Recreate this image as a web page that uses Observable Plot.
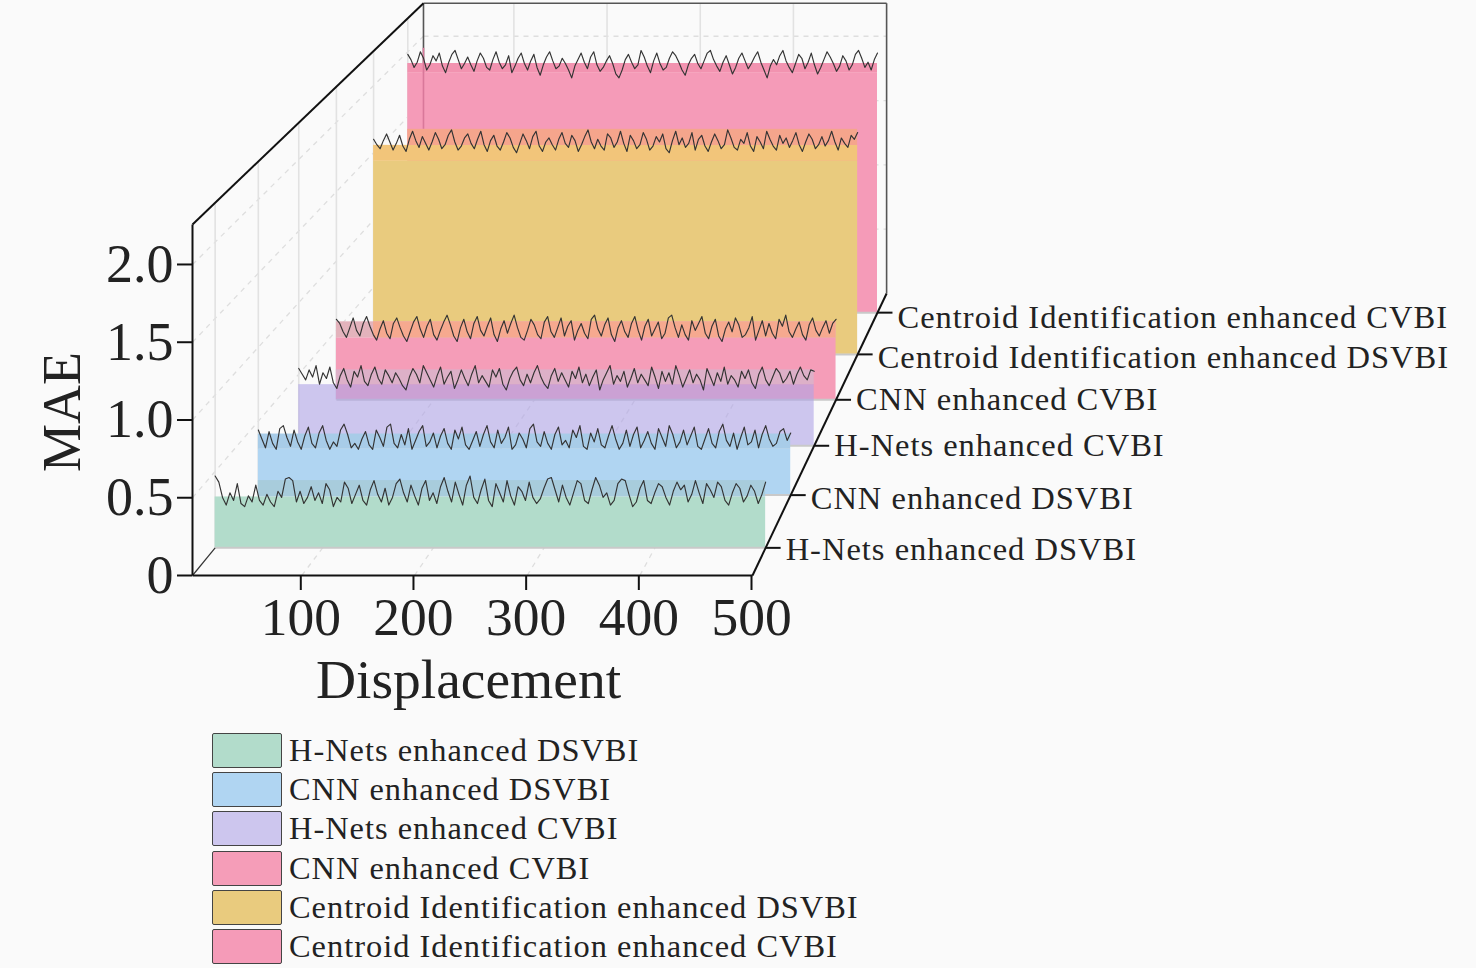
<!DOCTYPE html>
<html><head><meta charset="utf-8">
<script src="https://cdn.jsdelivr.net/npm/d3@7"></script>
<script src="https://cdn.jsdelivr.net/npm/@observablehq/plot@0.6"></script>
<style>
html,body{margin:0;padding:0;background:#fafafa;}
#legend{margin-left:212px;padding-top:5px;font-family:"Liberation Serif",serif;font-size:32.4px;letter-spacing:1px;color:#222;}
.row{display:flex;align-items:center;height:39.2px;}
.sw{width:68px;height:33px;border:1px solid #444;border-radius:2px;margin-right:7px;flex:none;}
.depth-label{letter-spacing:1px;}
</style></head><body>
<div id="chart"></div><div id="legend"></div>
<script>
const seriesNames=["H-Nets enhanced DSVBI","CNN enhanced DSVBI","H-Nets enhanced CVBI","CNN enhanced CVBI","Centroid Identification enhanced DSVBI","Centroid Identification enhanced CVBI"];
const seriesColors=["#B2DCCB","#B0D5F2","#AFA3E6","#F59DB8","#E9CB7E","#F59BB8"];
const seriesOpacity=[1,1,0.6,1,1,1];
const legendColors=["#B2DCCB","#B0D5F2","#CDC6EE","#F59DB8","#E9CB7E","#F59BB8"];
const seriesDepth=[0.098,0.285,0.46,0.623,0.784,0.932];
const seriesLevel=[0.333,0.31,0.427,0.447,1.436,1.84];
const bandLevel=[null,0.413,null,0.562,1.555,1.91];
const bandColors=[null,"#A8CCE8",null,"#E3B3BC","#F2C57A","#F293B0"];
const tintLevel=[0.44,null,0.53,0.562,1.674,null];
const tintColors=["#A8CCDC",null,"#DDB0C8","#F6A98F","#F5A58C",null];
const labelDy=[2,3,0,0,3,5];
const xTicks=[100,200,300,400,500];
const yTicks=[0,0.5,1,1.5,2];
const xMin=3,xMax=500,yMax=2.257;
const h1=[47,43,33,28,36,31,42,29,27,34,30,41,31,28,35,30,27,37,33,45,46,44,30,37,29,33,40,31,36,29,42,38,27,33,30,43,39,29,35,41,31,28,38,44,35,30,39,28,33,42,45,36,30,41,34,28,39,44,31,36,29,40,46,37,30,43,35,28,41,47,33,29,38,45,31,27,42,36,30,44,34,28,40,37,31,43,33,29,32,39,45,46,38,30,41,33,28,36,44,42,31,29,38,46,41,33,36,28,31,42,45,44,35,27,30,39,44,31,29,36,42,40,33,28,37,43,38,41,30,35,44,36,29,42,38,33,43,40,31,28,36,42,39,30,34,41,37,29,35,43];
const c1=[44,38,32,43,35,31,45,47,39,33,44,36,31,40,46,35,32,42,47,37,31,36,33,44,48,41,32,35,31,38,43,34,31,44,39,33,46,48,35,32,41,34,45,31,37,43,47,33,36,42,32,40,45,35,31,44,38,46,34,31,37,43,33,41,47,36,32,44,35,39,46,31,34,42,38,32,45,48,36,33,43,35,31,41,46,34,37,32,44,39,47,33,31,42,36,45,34,32,40,47,38,31,35,44,33,41,46,32,37,43,35,31,45,39,33,47,41,32,36,44,34,40,46,33,31,38,45,35,32,43,48,37,33,42,31,39,46,34,36,44,32,41,47,38,33,35,43,45,37,42];
const h2=[54,50,46,53,48,56,43,51,47,55,44,40,49,54,46,41,52,48,56,45,42,50,55,47,43,53,49,44,51,47,42,39,48,54,50,44,56,51,46,41,49,55,43,48,52,40,46,53,47,42,50,56,44,49,45,41,53,48,54,43,39,47,52,55,46,42,50,44,51,56,48,43,40,49,54,45,51,46,41,52,47,55,44,50,42,48,53,39,46,51,56,43,49,45,52,41,47,54,44,50,46,42,55,48,40,52,45,51,43,56,49,41,47,53,44,50,46,39,54,48,42,51,45,55,43,49,46,41,52,47,53,44,40,50,55,46,42,48,54,51,44,47,52,43,50,55,49,46,53,52];
const c2=[58,55,49,45,52,59,50,46,55,60,53,47,43,51,57,48,44,55,59,52,46,42,49,56,60,51,45,53,58,47,43,50,56,61,54,46,42,52,58,49,44,55,60,50,46,53,59,47,42,51,57,48,55,61,52,45,43,50,58,54,47,44,56,60,49,45,52,59,46,53,57,43,50,55,48,44,58,61,51,46,54,59,47,42,52,57,49,45,55,60,50,43,53,58,46,51,56,44,48,59,61,52,45,54,47,43,57,50,55,60,48,44,53,58,46,42,51,56,49,59,54,45,47,52,60,43,50,57,46,55,48,44,58,53,61,49,45,51,56,47,43,54,59,50,46,52,57,48,55,58];
const o1=[160,156,153,159,164,158,152,157,163,155,151,160,166,159,154,162,157,152,158,165,160,153,156,163,167,158,152,155,161,164,157,153,160,166,156,151,159,163,155,152,158,165,161,154,150,157,164,159,153,162,166,155,151,158,161,156,152,160,165,157,154,163,159,151,156,162,167,158,153,160,155,152,164,161,154,158,166,157,151,163,159,153,156,165,160,152,155,162,158,164,153,150,159,166,156,161,154,157,165,152,160,163,155,151,158,164,159,153,156,167,161,154,152,160,157,165,155,151,162,158,153,166,160,155,152,163,157,161,154,159,165,156,151,158,164,160,153,156,162,155,159,166,158,152,161,157,154,163,160,165];
const c3=[198,194,188,192,200,195,186,190,197,193,199,189,184,192,198,201,194,187,191,196,190,185,193,199,195,188,186,194,200,192,187,190,197,184,189,195,199,191,186,193,198,188,182,190,196,200,193,187,189,195,191,186,180,189,194,199,192,187,196,200,190,185,188,193,197,191,183,180,186,194,198,192,187,190,201,196,189,184,193,199,191,186,188,195,200,197,192,186,182,190,195,198,191,187,193,199,201,194,189,185,192,197,190,183,188,195,199,193,187,191,196,200,192,186,180,189,194,190,197,201,193,188,184,191,198,195,187,192,199,190,183,188,194,200,196,191,185,189,197,193,186,190,198,201,195,188,192,186,194,199];
const seriesValues=[h1,c1,h2,c2,o1,c3].map(a=>a.map(v=>v/100));
// oblique view: how far the back wall sits from the front plane, in data units
const depthX=205,depthY=1.8135,shrink=0.173,depthTick=13.3;
const px=(d,z)=>xMin+depthX*z+(d-xMin)*(1-shrink*z);
const py=(v,z)=>v*(1-shrink*z)+depthY*z;
const pt=(d,v,z)=>({x:px(d,z),y:py(v,z)});
const seg=(a,b)=>({x1:a.x,y1:a.y,x2:b.x,y2:b.y});

// grid
const wallVert=seriesDepth.map(z=>seg(pt(xMin,0,z),pt(xMin,yMax,z)));
const wallDiag=yTicks.slice(1).map(v=>seg(pt(xMin,v,0),pt(xMin,v,1)));
const floorDiag=xTicks.slice(0,4).map(d=>seg(pt(d,0,0),pt(d,0,1)));
const backVert=xTicks.slice(0,4).map(d=>seg(pt(d,0,1),pt(d,yMax,1)));
const backHorz=yTicks.slice(1).map(v=>seg(pt(xMin,v,1),pt(xMax,v,1)));
const backFrame=[seg(pt(xMin,yMax,1),pt(xMax,yMax,1)),seg(pt(xMax,yMax,1),pt(xMax,0,1)),seg(pt(xMin,yMax,1),pt(xMin,0,1))];
const frontFrame=[seg(pt(xMin,yMax,0),pt(xMin,yMax,1)),seg(pt(xMin,0,0),pt(xMin,yMax,0)),seg(pt(xMin,0,0),pt(xMax,0,0)),seg(pt(xMax,0,0),pt(xMax,0,1))];
const leftFloor=[seg(pt(xMin,0,0),pt(xMin,0,seriesDepth[0]))];
const backPost=[seg(pt(xMin,bandLevel[5],1),pt(xMin,seriesLevel[5]-0.56,1))];

const gridStyle={stroke:"#dedede",strokeWidth:1.3,strokeDasharray:"5 5"};
const solidGrid={stroke:"#e2e2e2",strokeWidth:1.6};
const link=(data,style)=>Plot.link(data,{x1:"x1",y1:"y1",x2:"x2",y2:"y2",...style});

const rectOf=(xa,xb,v0,v1,z)=>({x1:xa,x2:xb,y1:py(v0,z),y2:py(v1,z)});
const rectCh={x1:"x1",x2:"x2",y1:"y1",y2:"y2",inset:0};
const ribbonMarks=[];
for(let i=5;i>=0;i--){
  const z=seriesDepth[i],behind=seriesDepth[Math.min(i+1,5)];
  const left=px(xMin,z),right=px(xMax,z);
  ribbonMarks.push(Plot.rect([rectOf(left,right,0,seriesLevel[i],z)],{...rectCh,fill:seriesColors[i],fillOpacity:seriesOpacity[i]}));
  ribbonMarks.push(link([seg(pt(xMin,0,z),pt(xMax,0,z))],{stroke:"#c9c9c9",strokeWidth:2}));
  if(bandLevel[i]!=null) ribbonMarks.push(Plot.rect([rectOf(left,right,seriesLevel[i],bandLevel[i],z)],{...rectCh,fill:bandColors[i]}));
  if(tintLevel[i]!=null){
    const from=(bandLevel[i]!=null&&bandLevel[i]<tintLevel[i])?bandLevel[i]:seriesLevel[i];
    ribbonMarks.push(Plot.rect([rectOf(px(xMin,behind),right,from,tintLevel[i],z)],{...rectCh,fill:tintColors[i]}));
  }
  if(i===5) ribbonMarks.push(link(backPost,{stroke:"#d9789a",strokeWidth:1.6}));
  const vals=seriesValues[i];
  const pts=vals.map((v,k)=>pt(xMin+k*(xMax-xMin)/(vals.length-1),v,z));
  ribbonMarks.push(Plot.line(pts,{x:"x",y:"y",stroke:"#333",strokeWidth:1.15,curve:"linear"}));
}
const depthAnchors=seriesNames.map((name,i)=>({name,...pt(xMax,0,seriesDepth[i])}));
const depthTicks=depthAnchors.map(d=>({x1:d.x,x2:d.x+depthTick,y1:d.y,y2:d.y}));
const depthLabels=depthAnchors.map((d,i)=>Plot.text([d],{x:"x",y:"y",text:"name",dx:20,dy:labelDy[i],fontSize:32.5,textAnchor:"start",fill:"#222",className:"depth-label"}));

const chart=Plot.plot({
  width:1476,height:726,
  marginTop:224,marginBottom:151,marginLeft:192,marginRight:724,
  x:{type:"linear",domain:[xMin,xMax]},
  y:{type:"linear",domain:[0,yMax]},
  style:{fontFamily:"'Liberation Serif',serif",background:"transparent",color:"#222",overflow:"visible"},
  marks:[
    link(floorDiag,gridStyle),link(wallDiag,gridStyle),link(backHorz,gridStyle),
    link(wallVert,solidGrid),link(backVert,solidGrid),
    link(backFrame,{stroke:"#555",strokeWidth:1.6}),
    ...ribbonMarks,
    link(leftFloor,{stroke:"#333",strokeWidth:1.2}),
    link(frontFrame,{stroke:"#111",strokeWidth:2}),
    link(depthTicks,{stroke:"#111",strokeWidth:2}),
    Plot.axisX({ticks:xTicks,tickSize:15,tickPadding:6,fontSize:53.5,label:null,strokeWidth:2,stroke:"#111",dx:-1}),
    Plot.axisY({ticks:yTicks,tickSize:15,tickPadding:4,fontSize:54,label:null,strokeWidth:2,stroke:"#111",tickFormat:d=>d===0?"0":d.toFixed(1)}),
    ...depthLabels,
    Plot.text(["Displacement"],{frameAnchor:"bottom",dy:122,dx:-4,fontSize:55.5,fill:"#222"}),
    Plot.text(["MAE"],{frameAnchor:"left",rotate:-90,dx:-130,dy:72,fontSize:54,fill:"#222"})
  ]
});
document.getElementById("chart").appendChild(chart);
const lg=document.getElementById("legend");
seriesNames.forEach((n,i)=>{
  const r=document.createElement("div");r.className="row";
  const s=document.createElement("div");s.className="sw";s.style.background=legendColors[i];
  const t=document.createElement("span");t.textContent=n;
  r.append(s,t);lg.append(r);
});
</script></body></html>
